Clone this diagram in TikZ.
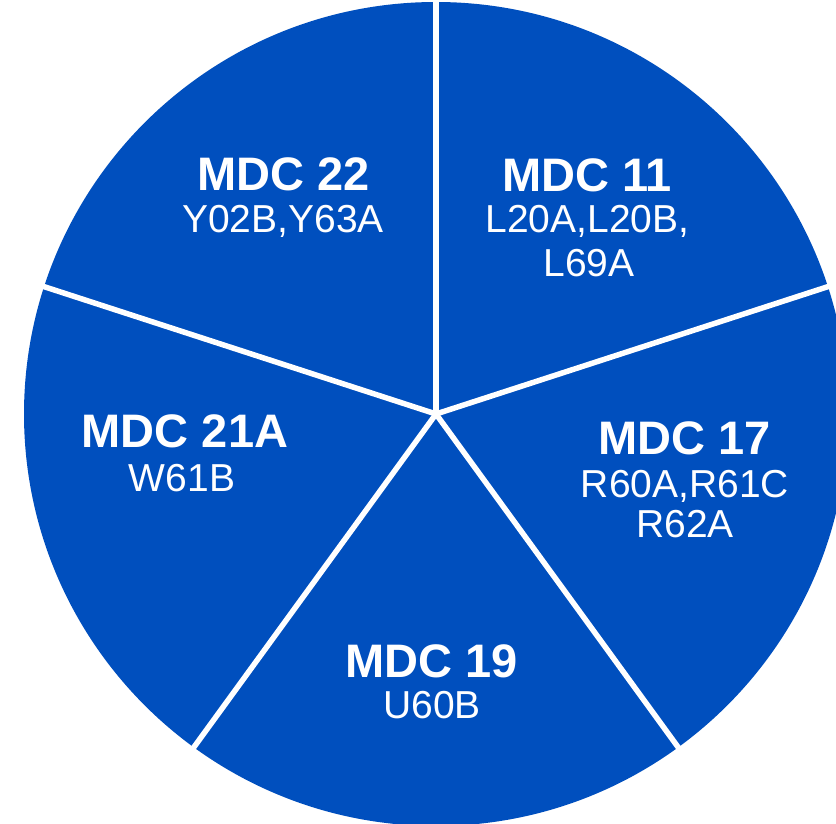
\documentclass[tikz,border=0pt]{standalone}
\usepackage{fontspec}
\setmainfont{Liberation Sans}
\definecolor{pieblue}{HTML}{004FBE}
\begin{document}
\begin{tikzpicture}[x=1pt,y=1pt,
  title/.style={anchor=base,text=white,inner sep=0pt,font=\fontsize{47}{51}\selectfont\bfseries},
  codes/.style={anchor=base,text=white,inner sep=0pt,font=\fontsize{39}{43}\selectfont},
  divider/.style={draw=white,line width=5.5pt}]
\useasboundingbox (0,0) rectangle (836,823);
\fill[white] (0,0) rectangle (836,823);
\coordinate (O) at (436,409);
\begin{scope}
\clip (0,0) rectangle (836,823);
\fill[pieblue] (O) circle[radius=412];
\foreach \a in {90,18,-54,-126,162}{
  \draw[divider] (O) -- ++(\a:430);
}
\end{scope}
% MDC 22
\node[title] (t22) at (284,632) {MDC 22};
\node[codes] (c22) at (283,590) {Y02B,Y63A};
% MDC 11
\node[title] (t11) at (587,631) {MDC 11};
\node[codes] (c11a) at (587.5,590) {L20A,L20B,};
\node[codes] (c11b) at (589,546) {L69A};
% MDC 17
\node[title] (t17) at (685,368) {MDC 17};
\node[codes] (c17a) at (685,325) {R60A,R61C};
\node[codes] (c17b) at (685,285) {R62A};
% MDC 21A
\node[title] (t21) at (185,375) {MDC 21A};
\node[codes] (c21) at (182,331) {W61B};
% MDC 19
\node[title] (t19) at (432,146) {MDC 19};
\node[codes] (c19) at (432,105) {U60B};
\end{tikzpicture}
\end{document}
